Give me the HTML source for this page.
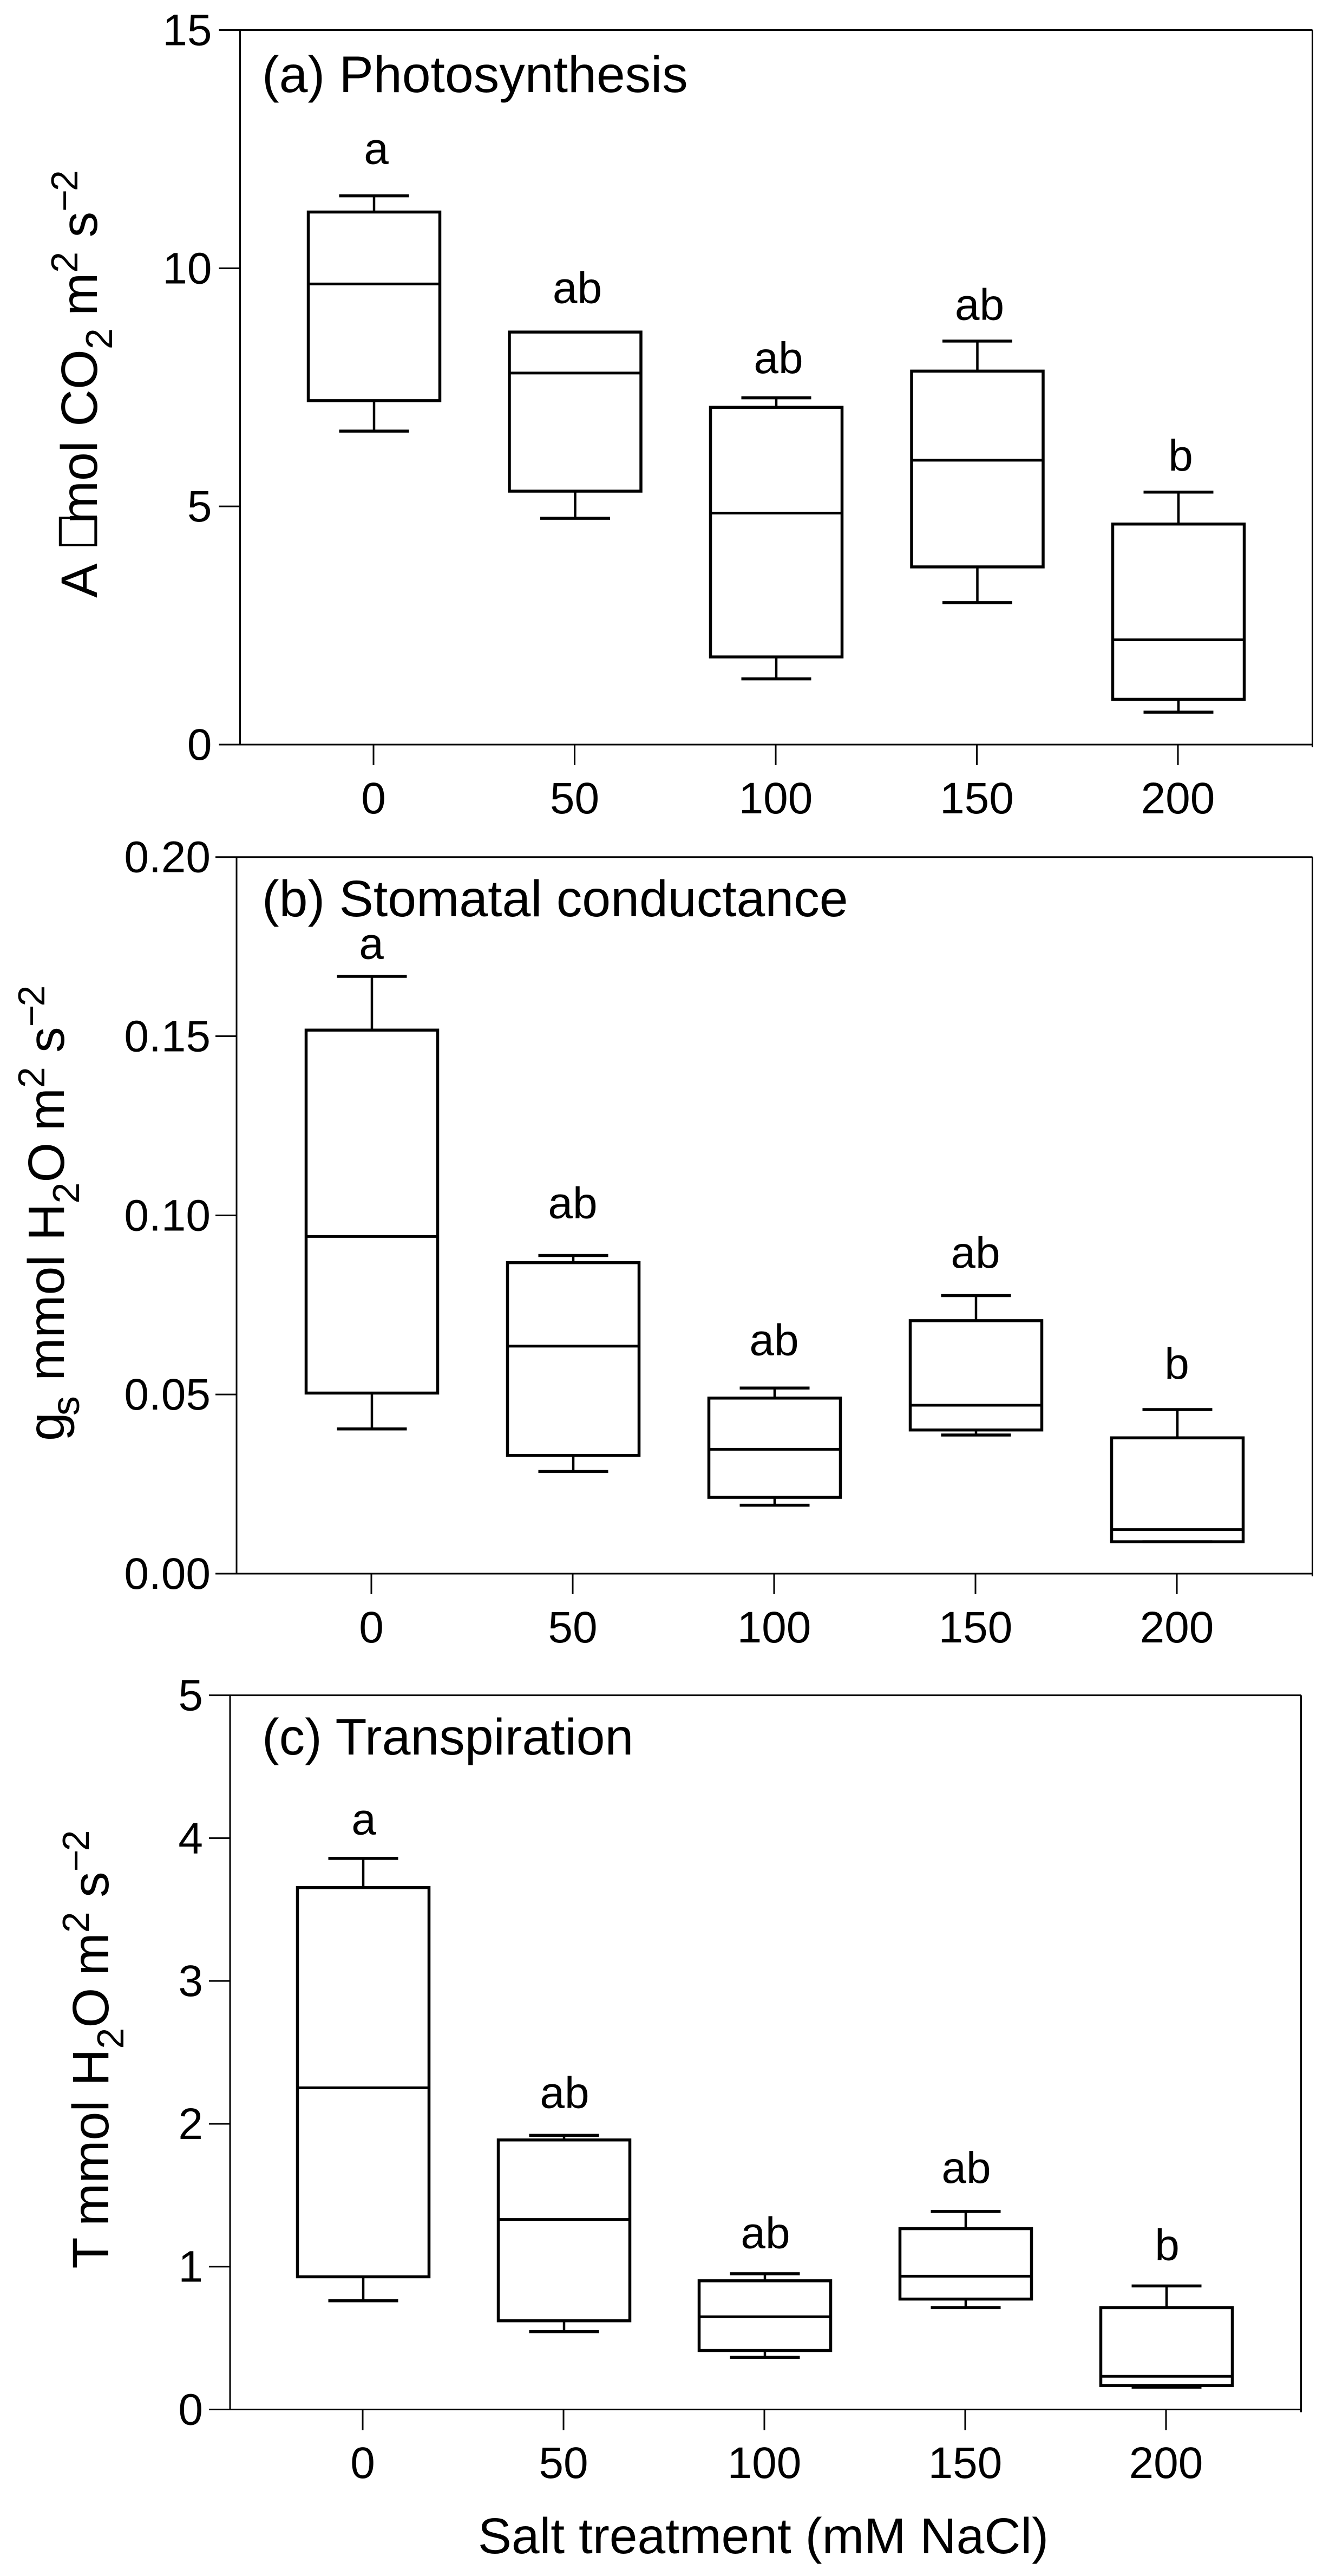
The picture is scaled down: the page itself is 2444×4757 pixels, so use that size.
<!DOCTYPE html>
<html lang="en">
<head>
<meta charset="utf-8">
<title>Salt treatment gas exchange box plots</title>
<style>
html,body{margin:0;padding:0;background:#fff;width:2444px;height:4757px;overflow:hidden}
svg{display:block}
text{font-family:"Liberation Sans",Arial,sans-serif;fill:#000;white-space:pre}
</style>
</head>
<body>
<svg id="figure" xmlns="http://www.w3.org/2000/svg" width="2444" height="4757" viewBox="0 0 2444 4757">
  <rect x="0" y="0" width="2444" height="4757" fill="#fff"/>
  <g id="panel-a"></g>
  <g id="panel-b"></g>
  <g id="panel-c"></g>

  <text x="484" y="170" font-size="95">(a) Photosynthesis</text>
  <text x="484" y="1692" font-size="95">(b) Stomatal conductance</text>
  <text x="484" y="3240" font-size="95">(c) Transpiration</text>

  <text transform="translate(179,1103.7) rotate(-90)" font-size="95"><tspan>A </tspan><tspan dx="52">mol CO</tspan><tspan dy="28" font-size="70">2</tspan><tspan dx="-3" dy="-28"> m</tspan><tspan dy="-36" font-size="70">2</tspan><tspan dy="36"> s</tspan><tspan dy="-36" font-size="70">−</tspan><tspan dx="-3" font-size="70">2</tspan></text>
  <text transform="translate(168,1015) rotate(-90) scale(1,1.3)" font-size="71" font-family="DejaVu Sans" style="font-family:'DejaVu Sans',sans-serif">□</text>
  <text transform="translate(118,2661) rotate(-90)" font-size="95"><tspan>g</tspan><tspan dx="-6" dy="28" font-size="72">s</tspan><tspan dx="2" dy="-28"> mmol H</tspan><tspan dy="28" font-size="70">2</tspan><tspan dy="-28">O</tspan><tspan dx="-5"> m</tspan><tspan dy="-36" font-size="70">2</tspan><tspan dy="36"> s</tspan><tspan dy="-36" font-size="70">−</tspan><tspan dx="-3" font-size="70">2</tspan></text>
  <text transform="translate(200,4189.5) rotate(-90)" font-size="95"><tspan>T </tspan><tspan dx="-4">mmol H</tspan><tspan dy="28" font-size="70">2</tspan><tspan dy="-28">O</tspan><tspan dx="-4"> m</tspan><tspan dy="-36" font-size="70">2</tspan><tspan dy="36"> s</tspan><tspan dy="-36" font-size="70">−</tspan><tspan dx="-3" font-size="70">2</tspan></text>
  <text x="1410" y="4715" font-size="93" text-anchor="middle">Salt treatment (mM NaCl)</text>
</svg>

<script>
const categories = ['0', '50', '100', '150', '200'];
const significanceLetters = ['a', 'ab', 'ab', 'ab', 'b'];

const yTicksA = ['0', '5', '10', '15'];
const whiskerLowA = [6.58, 4.75, 1.38, 2.98, 0.68];
const quartileLowA = [7.22, 5.32, 1.84, 3.73, 0.95];
const medianA = [9.67, 7.80, 4.86, 5.97, 2.20];
const quartileHighA = [11.18, 8.66, 7.08, 7.84, 4.63];
const whiskerHighA = [11.52, 8.66, 7.28, 8.47, 5.30];
const letterLevelA = [12.19, 9.27, 7.80, 8.92, 5.75];

const yTicksB = ['0.00', '0.05', '0.10', '0.15', '0.20'];
const whiskerLowB = [0.0404, 0.0285, 0.0191, 0.0387, 0.0089];
const quartileLowB = [0.0504, 0.0330, 0.0213, 0.0401, 0.0089];
const medianB = [0.0941, 0.0635, 0.0347, 0.0470, 0.0123];
const quartileHighB = [0.1517, 0.0868, 0.0490, 0.0706, 0.0379];
const whiskerHighB = [0.1667, 0.0888, 0.0518, 0.0776, 0.0458];
const letterLevelB = [0.1716, 0.0992, 0.0610, 0.0854, 0.0544];

const yTicksC = ['0', '1', '2', '3', '4', '5'];
const whiskerLowC = [0.761, 0.545, 0.365, 0.713, 0.156];
const quartileLowC = [0.929, 0.621, 0.413, 0.773, 0.168];
const medianC = [2.252, 1.330, 0.649, 0.933, 0.232];
const quartileHighC = [3.654, 1.887, 0.901, 1.266, 0.713];
const whiskerHighC = [3.858, 1.919, 0.950, 1.386, 0.865];
const letterLevelC = [4.026, 2.111, 1.130, 1.587, 1.046];

const SVG_NS = 'http://www.w3.org/2000/svg';

function mark(parent, tag, name, attrs, content) {
  const el = document.createElementNS(SVG_NS, tag);
  
  
  Object.keys(attrs).forEach(function (k) { el.setAttribute(k, attrs[k]); });
  if (content !== undefined) el.textContent = content;
  parent.appendChild(el);
  return el;
}

function line(parent, name, x1, y1, x2, y2, w) {
  return mark(parent, 'line', name, {
    x1: x1, y1: y1, x2: x2, y2: y2,
    stroke: '#000', 'stroke-width': w
  });
}

function drawPanel(g, frame, yTicks, low, q1, med, q3, high, letters) {
  const yMin = parseFloat(yTicks[0]);
  const yMax = parseFloat(yTicks[yTicks.length - 1]);
  const yScale = function (v) {
    return frame.bottom - (v - yMin) / (yMax - yMin) * (frame.bottom - frame.top);
  };
  const xScale = function (i) { return frame.xStart + i * frame.xStep; };

  line(g, 'plot-frame-top', frame.left, frame.top, frame.right, frame.top, 3);
  line(g, 'plot-frame-right', frame.right, frame.top, frame.right, frame.bottom + 5, 3);
  line(g, 'x-axis-line', frame.left, frame.bottom, frame.right, frame.bottom, 3);
  line(g, 'y-axis-line', frame.left, frame.top, frame.left, frame.bottom, 3);

  yTicks.forEach(function (label) {
    const y = yScale(parseFloat(label));
    line(g, 'y-tick-' + label, frame.left - 39, y, frame.left, y, 3);
    mark(g, 'text', 'y-tick-label-' + label, {
      x: frame.left - frame.labelGap, y: y + 28, 'font-size': 82, 'text-anchor': 'end'
    }, label);
  });

  categories.forEach(function (cat, i) {
    const tickX = xScale(i);
    const x = tickX + 1;
    line(g, 'x-tick-' + cat, tickX, frame.bottom, tickX, frame.bottom + 38, 3);
    mark(g, 'text', 'x-tick-label-' + cat, {
      x: tickX, y: frame.xLabelY, 'font-size': 82, 'text-anchor': 'middle'
    }, cat);

    line(g, 'whisker-high-' + cat, x, yScale(high[i]), x, yScale(q3[i]), 4.5);
    line(g, 'whisker-low-' + cat, x, yScale(q1[i]), x, yScale(low[i]), 4.5);
    line(g, 'cap-high-' + cat, x - 64.5, yScale(high[i]), x + 64.5, yScale(high[i]), 5.5);
    line(g, 'cap-low-' + cat, x - 64.5, yScale(low[i]), x + 64.5, yScale(low[i]), 5.5);

    mark(g, 'rect', 'box-' + cat, {
      x: x - 121.5,
      y: yScale(q3[i]),
      width: 243,
      height: yScale(q1[i]) - yScale(q3[i]),
      fill: 'none',
      stroke: '#000',
      'stroke-width': 5.5
    });
    line(g, 'median-' + cat, x - 121.5, yScale(med[i]), x + 121.5, yScale(med[i]), 5);

    mark(g, 'text', 'significance-letter-' + cat, {
      x: tickX + frame.letterShift,
      y: yScale(letters[i]),
      'font-size': 82,
      'text-anchor': 'middle'
    }, significanceLetters[i]);
  });
}

drawPanel(
  document.getElementById('panel-a'),
  { left: 443.5, right: 2424.5, top: 55.5, bottom: 1375, xStart: 690, xStep: 371.5, xLabelY: 1502, letterShift: 5, labelGap: 52 },
  yTicksA, whiskerLowA, quartileLowA, medianA, quartileHighA, whiskerHighA, letterLevelA
);
drawPanel(
  document.getElementById('panel-b'),
  { left: 437, right: 2424.5, top: 1582.7, bottom: 2906, xStart: 686, xStep: 372, xLabelY: 3033, letterShift: 0, labelGap: 48 },
  yTicksB, whiskerLowB, quartileLowB, medianB, quartileHighB, whiskerHighB, letterLevelB
);
drawPanel(
  document.getElementById('panel-c'),
  { left: 425, right: 2403.5, top: 3130.6, bottom: 4449.5, xStart: 670, xStep: 371, xLabelY: 4576, letterShift: 2, labelGap: 50 },
  yTicksC, whiskerLowC, quartileLowC, medianC, quartileHighC, whiskerHighC, letterLevelC
);
</script>
</body>
</html>
